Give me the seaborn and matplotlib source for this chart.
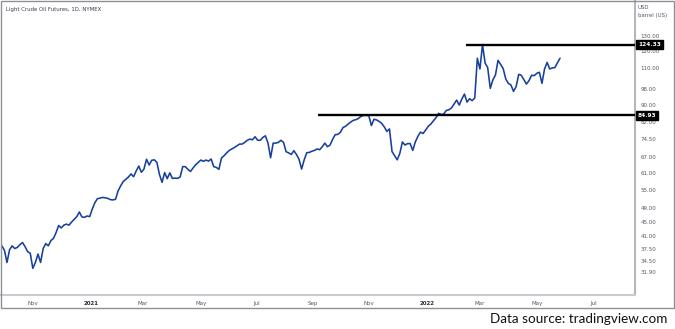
import numpy as np
import pandas as pd
import matplotlib
matplotlib.use("Agg")
import matplotlib.pyplot as plt
import matplotlib.transforms as mtransforms
from matplotlib.ticker import FixedLocator, FuncFormatter, NullLocator
from matplotlib.patches import Rectangle
import seaborn as sns

# Light crude oil futures (NYMEX, daily), closes taken every second session
start_date = "2020-09-29"
step_sessions = 2
close_prices = [
    38.3, 37.2, 34.1, 37.3, 38.3, 37.6, 37.9, 38.6, 39.2, 38.1,
    36.8, 36.4, 32.7, 34.1, 36.2, 34.1, 37.6, 38.9, 38.3, 39.7,
    40.3, 41.9, 43.9, 43.2, 44.0, 44.3, 44.0, 44.9, 45.7, 46.5,
    47.9, 46.4, 46.3, 46.7, 46.5, 48.8, 50.8, 52.1, 52.3, 52.5,
    52.4, 52.2, 51.8, 51.7, 51.9, 54.7, 56.4, 57.9, 58.7, 59.5,
    60.6, 59.6, 61.7, 63.5, 61.2, 62.4, 66.1, 63.9, 65.7, 65.9,
    64.9, 60.4, 57.6, 61.1, 58.9, 61.0, 59.0, 59.1, 59.0, 59.5,
    63.3, 63.3, 62.3, 61.5, 62.8, 64.0, 64.9, 65.8, 65.3, 65.8,
    65.4, 66.2, 63.3, 63.0, 62.3, 66.6, 67.5, 68.6, 69.6, 70.2,
    70.8, 71.5, 72.2, 72.2, 72.9, 73.8, 74.3, 74.0, 75.3, 73.8,
    73.8, 75.0, 75.7, 72.6, 66.7, 72.6, 72.6, 72.9, 73.8, 72.9,
    69.1, 68.6, 68.0, 69.5, 68.0, 66.1, 62.4, 65.9, 68.7, 68.8,
    69.3, 69.6, 70.2, 69.9, 71.1, 72.6, 71.1, 71.8, 74.2, 76.2,
    76.3, 77.2, 79.3, 79.9, 80.9, 81.8, 82.6, 82.9, 83.5, 84.5,
    84.9, 84.9, 84.8, 80.2, 83.1, 82.8, 82.1, 81.2, 79.6, 77.6,
    78.7, 69.1, 67.5, 65.9, 68.4, 73.1, 71.8, 72.4, 72.4, 69.6,
    73.1, 75.5, 77.3, 76.7, 78.2, 79.9, 80.9, 82.4, 83.8, 85.9,
    85.3, 85.6, 87.3, 87.6, 88.5, 90.4, 92.4, 89.9, 92.9, 95.5,
    91.4, 93.1, 92.1, 93.5, 115.7, 109.3, 124.3, 112.8, 110.1, 98.5,
    103.1, 105.8, 114.4, 112.0, 109.5, 103.6, 101.2, 100.3, 96.9, 99.4,
    106.2, 105.7, 103.2, 100.8, 102.7, 105.7, 105.5, 106.8, 107.4, 101.2,
    109.3, 113.2, 109.3, 109.9, 110.1, 113.0, 115.7,
]

# Horizontal levels drawn on the chart
resistance_level = 124.33
resistance_from = "2022-02-14"
support_level = 84.93
support_from = "2021-09-07"

price_ticks = [31.9, 34.5, 37.5, 41, 45, 49, 55, 61, 67, 74.5, 82, 90, 98, 110, 120, 130]
month_starts = ["2020-11-02", "2021-01-04", "2021-03-01", "2021-05-03", "2021-07-01",
                "2021-09-01", "2021-11-01", "2022-01-03", "2022-03-01", "2022-05-02",
                "2022-07-01"]
month_labels = ["Nov", "2021", "Mar", "May", "Jul", "Sep", "Nov", "2022", "Mar", "May", "Jul"]

title_text = "Light Crude Oil Futures, 1D, NYMEX"
currency_text = "USD"
unit_text = "barrel (US)"
source_text = "Data source: tradingview.com"

# Session axis: weekdays counted from the first session of 2021
anchor = np.datetime64("2021-01-04")


def session_index(dates):
    d = np.asarray(pd.to_datetime(dates).values.astype("datetime64[D]"))
    return np.busday_count(anchor, d)


dates = pd.bdate_range(start_date, periods=len(close_prices), freq=f"{step_sessions}B")
df = pd.DataFrame({"session": session_index(dates), "close": close_prices})

sns.set_style("white")
plt.rcParams["font.family"] = ["DejaVu Sans"]

W, H = 675, 329
fig = plt.figure(figsize=(W / 100, H / 100), dpi=100)
fig.patch.set_facecolor("white")

ax_left, ax_right_px, ax_top_px, ax_bottom_px = 0, 635, 0, 295
ax = fig.add_axes([ax_left / W, (H - ax_bottom_px) / H,
                   (ax_right_px - ax_left) / W, (ax_bottom_px - ax_top_px) / H])

line_color = "#163f9e"
sns.lineplot(data=df, x="session", y="close", ax=ax, color=line_color,
             linewidth=1.15, zorder=3)


# Price scale: compressed logarithmic scale
def fwd(v):
    v = np.asarray(v, dtype=float)
    return np.log(np.maximum(v + 20.0, 1e-9))


def inv(u):
    return np.exp(np.asarray(u, dtype=float)) - 20.0


ax.set_yscale("function", functions=(fwd, inv))
x_lo, x_hi = -70.4, 421.0
ax.set_xlim(x_lo, x_hi)
ax.set_ylim(26.73, 156.4)

# Support / resistance levels
ax.hlines(resistance_level, session_index([resistance_from])[0], x_hi,
          color="black", linewidth=1.7, zorder=4)
ax.hlines(support_level, session_index([support_from])[0], x_hi,
          color="black", linewidth=1.7, zorder=4)

# Axis ticks
tick_color = "#555862"
ax.yaxis.tick_right()
ax.yaxis.set_major_locator(FixedLocator(price_ticks))
ax.yaxis.set_minor_locator(NullLocator())
ax.yaxis.set_major_formatter(FuncFormatter(lambda v, p: f"{v:.2f}"))
ax.tick_params(axis="y", length=0, pad=4, labelsize=4.0, labelcolor=tick_color)

ax.xaxis.set_major_locator(FixedLocator(session_index(month_starts)))
ax.xaxis.set_minor_locator(NullLocator())
ax.set_xticklabels(month_labels)
ax.tick_params(axis="x", length=0, pad=4.5, labelsize=4.0, labelcolor=tick_color)
for lab in ax.get_xticklabels():
    if lab.get_text().isdigit():
        lab.set_color("#2a2c33")
        lab.set_fontweight("bold")
ax.set_xlabel("")
ax.set_ylabel("")
ax.grid(False)

for side in ("left", "top"):
    ax.spines[side].set_visible(False)
ax.spines["right"].set_color("#b4b7bf")
ax.spines["right"].set_linewidth(1.5)
ax.spines["bottom"].set_color("#c9cbd1")
ax.spines["bottom"].set_linewidth(1.5)

# Price tags on the scale
trans = mtransforms.blended_transform_factory(ax.transAxes, ax.transData)
for level in (resistance_level, support_level):
    ax.text(1.0 + 3 / 635, level, f"{level:.2f}", transform=trans, ha="left", va="center",
            fontsize=4.2, fontweight="bold", color="white", clip_on=False, zorder=10,
            bbox=dict(boxstyle="square,pad=0.3", fc="black", ec="black"))

# Header texts
fig.text(6 / W, 1 - 9.5 / H, title_text, fontsize=3.9, color="#3c3f47", ha="left", va="center")
fig.text(638 / W, 1 - 7.5 / H, currency_text, fontsize=3.9, color=tick_color, ha="left", va="center")
fig.text(638 / W, 1 - 15.5 / H, unit_text, fontsize=3.9, color=tick_color, ha="left", va="center")

# Outer frame of the chart panel
fig.add_artist(Rectangle((0.5 / W, (H - 308) / H), 673.5 / W, 307.5 / H,
                         transform=fig.transFigure, fill=False, ec="#8e9098", lw=1.0))

fig.text(667 / W, 1 - 319 / H, source_text, fontsize=9.7, family=["Lato", "DejaVu Sans"],
         color="#111111", ha="right", va="center")

fig.savefig("out.png", dpi=100)
